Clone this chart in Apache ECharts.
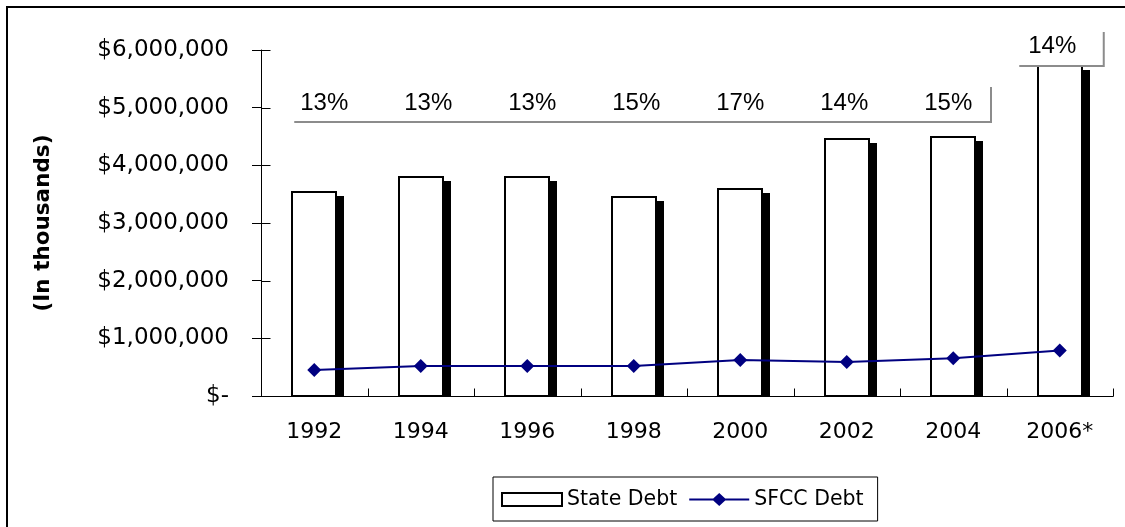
<!DOCTYPE html>
<html><head><meta charset="utf-8">
<script src="https://cdn.jsdelivr.net/npm/echarts@6/dist/echarts.min.js"></script>
<style>html,body{margin:0;padding:0;background:#fff}#c{width:1125px;height:527px}</style>
</head><body><div id="c"></div>
<script>
const categories = ['1992','1994','1996','1998','2000','2002','2004','2006*'];
const stateDebt = [3540000, 3790000, 3790000, 3445000, 3585000, 4450000, 4485000, 5720000];
const sfccDebt = [450000, 520000, 520000, 520000, 625000, 590000, 655000, 790000];
const sfccShare = ['13%','13%','13%','15%','17%','14%','15%','14%'];
const yMax = 6000000, yStep = 1000000;

const FONT = 'DejaVu Sans';
const chart = echarts.init(document.getElementById('c'));

const tickStyle = {color:'#000', width:1};
const option = {
  animation: false,
  backgroundColor: '#fff',
  grid: {left: 261, right: 12, top: 50, bottom: 131, containLabel: false},
  legend: {
    left: 493, top: 477,
    padding: [12, 14, 11, 8],
    borderColor: '#000', borderWidth: 1,
    itemWidth: 60, itemHeight: 13, itemGap: 12,
    textStyle: {fontFamily: FONT, fontSize: 20.5, color: '#000'},
    data: [
      {name: 'State Debt', icon: 'rect'},
      {name: 'SFCC Debt', icon: 'path://M0,5.5L24,5.5L30,0L36,5.5L60,5.5L60,7.5L36,7.5L30,13L24,7.5L0,7.5Z'}
    ]
  },
  xAxis: {type: 'category', data: categories, position: 'bottom',
     axisLine: {onZero: false, lineStyle: tickStyle},
     axisTick: {length: 8, lineStyle: tickStyle},
     axisLabel: {fontFamily: FONT, fontSize: 22, color: '#000', margin: 25}},
  yAxis: {type: 'value', min: 0, max: yMax, interval: yStep, position: 'left',
     name: '(In thousands)', nameLocation: 'middle', nameGap: 207,
     nameTextStyle: {fontFamily: FONT, fontWeight: 'bold', fontSize: 21.5, color: '#000'},
     axisLine: {show: true, onZero: false, lineStyle: tickStyle},
     axisTick: {show: true, length: 9, lineStyle: tickStyle},
     splitLine: {show: false},
     axisLabel: {fontFamily: FONT, fontSize: 23, color: '#000', margin: 32,
       formatter: v => v === 0 ? '$-' : '$' + v.toLocaleString('en-US')}},
  series: [
    {
      name: 'State Debt', type: 'custom',
      itemStyle: {color: '#fff', borderColor: '#000', borderWidth: 1.5},
      encode: {x: 0, y: 1},
      data: stateDebt.map((v, i) => [i, v]),
      renderItem: function (params, api) {
        const top = api.coord([api.value(0), api.value(1)]);
        const base = api.coord([api.value(0), 0]);
        const bw = Math.round(api.size([1, 0])[0] * 0.413);
        const x0 = Math.round(top[0] - bw / 2);
        const y0 = Math.round(top[1]);
        const h = base[1] - y0;
        return {type: 'group', children: [
          {type: 'rect', shape: {x: x0 + bw, y: y0 + 4, width: 8, height: h - 4}, style: {fill: '#000'}},
          {type: 'rect', shape: {x: x0, y: y0, width: bw, height: h},
           style: {fill: '#fff', stroke: '#000', lineWidth: 2}}
        ]};
      }
    },
    {
      name: 'SFCC Debt', type: 'line', data: sfccDebt,
      symbol: 'diamond', symbolSize: 14,
      lineStyle: {color: '#000080', width: 2},
      itemStyle: {color: '#000080'},
      z: 5
    }
  ]
};
chart.setOption(option);

const px = i => chart.convertToPixel({xAxisIndex: 0}, categories[i]);
const py = v => chart.convertToPixel({yAxisIndex: 0}, v);
const band = px(1) - px(0);
const axisX = Math.round(px(0) - band / 2) + 0.5;
const axisY = Math.round(py(0)) + 0.5;
const GRAY = '#8c8c8c';
const g = [];
g.push({type: 'rect', shape: {x: 7, y: 7, width: 1140, height: 540}, style: {fill: 'none', stroke: '#000', lineWidth: 2}, z: 100});
// inner halves of the crossing tick marks
for (let v = 0; v <= yMax; v += yStep) {
  const y = Math.round(py(v)) + 0.5;
  g.push({type: 'line', shape: {x1: axisX, y1: y, x2: axisX + 9, y2: y}, style: {stroke: '#000', lineWidth: 1}, z: 100});
}
for (let i = 0; i <= categories.length; i++) {
  const x = Math.round(px(0) - band / 2 + i * band) + 0.5;
  g.push({type: 'line', shape: {x1: x, y1: axisY, x2: x, y2: axisY - 8}, style: {stroke: '#000', lineWidth: 1}, z: 100});
}
// percentage annotations
for (let i = 0; i < sfccShare.length; i++) {
  const last = i === sfccShare.length - 1;
  g.push({type: 'text', x: px(i) + 10 - 2.5 * i, y: last ? 46 : 103,
    style: {text: sfccShare[i], fontFamily: 'Liberation Sans', fontSize: 24, fill: '#000',
      textAlign: 'center', textVerticalAlign: 'middle'}, z: 100});
}
const lx2 = px(6) + band / 2 - 15.5;
g.push({type: 'polyline', shape: {points: [[px(0) - 20, 122], [lx2, 122], [lx2, 87]]}, style: {stroke: GRAY, lineWidth: 2, fill: 'none'}, z: 100});
const rx1 = px(7) - 40.5, rx2 = px(7) + 44;
g.push({type: 'polyline', shape: {points: [[rx1, 66], [rx2, 66], [rx2, 32]]}, style: {stroke: GRAY, lineWidth: 2, fill: 'none'}, z: 100});
chart.setOption({graphic: {elements: g}});
</script></body></html>
